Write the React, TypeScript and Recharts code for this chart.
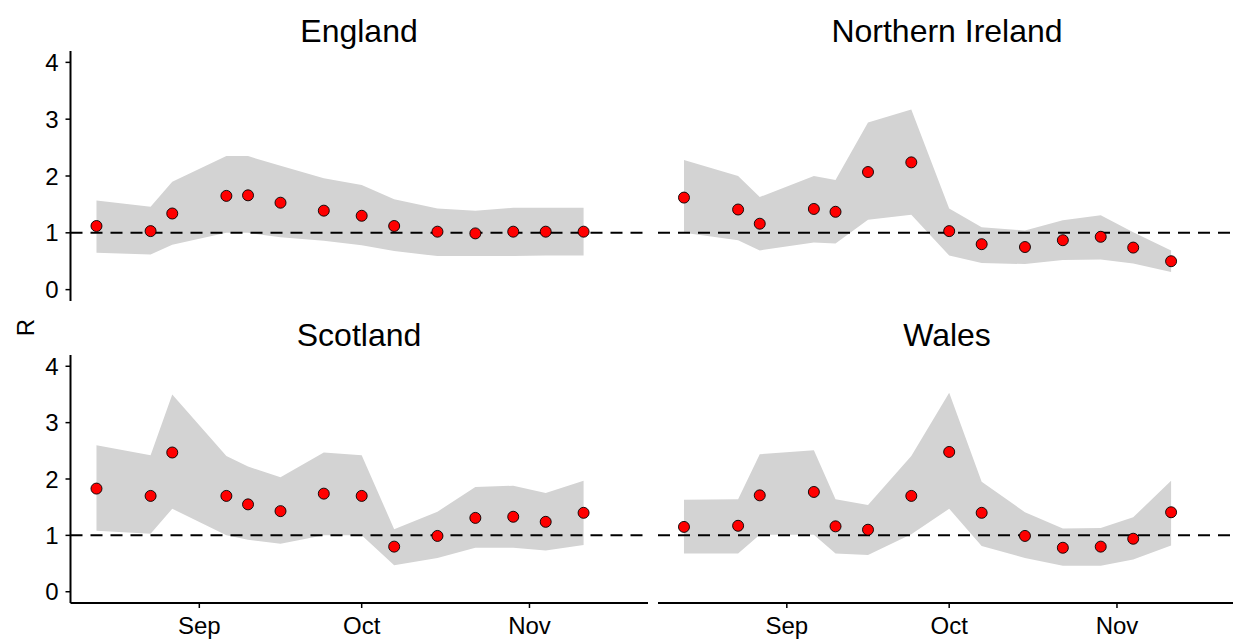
import React from 'react';
import {ComposedChart, Area, Scatter, XAxis, YAxis, ReferenceLine} from 'recharts';

// estimate dates (same for every nation)
const dates = [
  '2020-08-13', '2020-08-23', '2020-08-27', '2020-09-06', '2020-09-10', '2020-09-16', '2020-09-24',
  '2020-10-01', '2020-10-07', '2020-10-15', '2020-10-22', '2020-10-29', '2020-11-04', '2020-11-11'
];
const monthTicks = ['2020-09-01', '2020-10-01', '2020-11-01'];
const monthLabels = ['Sep', 'Oct', 'Nov'];
const rTicks = [0, 1, 2, 3, 4];

const englandR = [1.12, 1.03, 1.34, 1.65, 1.66, 1.53, 1.39, 1.30, 1.12, 1.02, 0.99, 1.02, 1.02, 1.02];
const englandLow = [0.65, 0.62, 0.79, 1.0, 1.0, 0.92, 0.86, 0.78, 0.68, 0.59, 0.59, 0.59, 0.6, 0.6];
const englandHigh = [1.57, 1.46, 1.9, 2.35, 2.35, 2.18, 1.96, 1.84, 1.59, 1.43, 1.39, 1.44, 1.44, 1.44];

const niR = [1.62, 1.41, 1.16, 1.42, 1.37, 2.07, 2.24, 1.03, 0.8, 0.75, 0.87, 0.93, 0.74, 0.5];
const niLow = [1.0, 0.87, 0.69, 0.83, 0.81, 1.23, 1.32, 0.6, 0.47, 0.45, 0.52, 0.53, 0.46, 0.31];
const niHigh = [2.28, 2.0, 1.63, 2.0, 1.93, 2.94, 3.17, 1.43, 1.1, 1.04, 1.22, 1.31, 1.01, 0.69];

const scotlandR = [1.83, 1.7, 2.47, 1.7, 1.55, 1.43, 1.74, 1.7, 0.8, 0.99, 1.31, 1.33, 1.24, 1.4];
const scotlandLow = [1.08, 1.03, 1.47, 1.0, 0.92, 0.85, 1.0, 1.0, 0.47, 0.6, 0.78, 0.78, 0.73, 0.83];
const scotlandHigh = [2.6, 2.42, 3.5, 2.41, 2.22, 2.03, 2.47, 2.42, 1.11, 1.42, 1.86, 1.88, 1.75, 1.97];

const walesR = [1.15, 1.17, 1.71, 1.77, 1.16, 1.1, 1.7, 2.48, 1.4, 0.99, 0.78, 0.8, 0.94, 1.41];
const walesLow = [0.68, 0.68, 1.01, 1.01, 0.68, 0.65, 1.02, 1.47, 0.81, 0.6, 0.46, 0.46, 0.57, 0.82];
const walesHigh = [1.63, 1.64, 2.44, 2.51, 1.64, 1.54, 2.41, 3.53, 1.95, 1.41, 1.12, 1.13, 1.32, 1.97];

const FONT = '"Liberation Sans", Arial, sans-serif';
const dayOf = (s: string) => (Date.parse(s) - Date.parse('2020-09-01')) / 86400000;
const tickDays = monthTicks.map(dayOf);

const build = (r: number[], lo: number[], hi: number[]) =>
  dates.map((d, i) => ({day: dayOf(d), r: r[i], band: [lo[i], hi[i]]}));

const Dot = (props: any) => (
  <circle cx={props.cx} cy={props.cy} r={5.5} fill="#ff0000" stroke="#000" strokeWidth={0.9} />
);

function Panel({data, left, top, width, height, margin, showX, showY}: any) {
  return (
    <div style={{position: 'absolute', left, top}}>
      <ComposedChart width={width} height={height} data={data} margin={margin}>
        <XAxis
          dataKey="day"
          type="number"
          domain={[-23.8, 82.9]}
          allowDataOverflow
          ticks={tickDays}
          tickFormatter={(v: number) => monthLabels[tickDays.indexOf(v)] ?? ''}
          hide={!showX}
          height={38}
          axisLine={{stroke: '#000', strokeWidth: 2}}
          tickLine={{stroke: '#000', strokeWidth: 1.5}}
          tickSize={5}
          tickMargin={9}
          tick={{fill: '#000', fontSize: 24, fontFamily: FONT}}
        />
        <YAxis
          type="number"
          domain={[-0.2, 4.2]}
          allowDataOverflow
          ticks={rTicks}
          hide={!showY}
          width={60.5}
          axisLine={{stroke: '#000', strokeWidth: 2}}
          tickLine={{stroke: '#000', strokeWidth: 1.5}}
          tickSize={5}
          tickMargin={7}
          tick={{fill: '#000', fontSize: 24, fontFamily: FONT}}
        />
        <Area
          type="linear"
          dataKey="band"
          stroke="none"
          fill="#d3d3d3"
          fillOpacity={1}
          dot={false}
          activeDot={false}
          isAnimationActive={false}
        />
        <ReferenceLine y={1} stroke="#000" strokeWidth={2} strokeDasharray="12 8" />
        <Scatter dataKey="r" shape={Dot} isAnimationActive={false} />
      </ComposedChart>
    </div>
  );
}

export default function App() {
  const topMargin = {top: 51, right: 2, bottom: 19, left: 10};
  const botMargin = {top: 35, right: 2, bottom: 0, left: 10};
  const topMarginR = {top: 51, right: 4.5, bottom: 19, left: 8};
  const botMarginR = {top: 35, right: 4.5, bottom: 0, left: 8};

  return (
    <div style={{position: 'absolute', left: 0, top: 0, width: 1233, height: 641, overflow: 'hidden', background: '#fff', fontFamily: FONT}}>
      <Panel data={build(englandR, englandLow, englandHigh)} left={0} top={0} width={650} height={320}
             margin={topMargin} showY />
      <Panel data={build(niR, niLow, niHigh)} left={650} top={0} width={590} height={320}
             margin={topMarginR} />
      <Panel data={build(scotlandR, scotlandLow, scotlandHigh)} left={0} top={320} width={650} height={321}
             margin={botMargin} showX showY />
      <Panel data={build(walesR, walesLow, walesHigh)} left={650} top={320} width={590} height={321}
             margin={botMarginR} showX />

      <svg width={1233} height={641} style={{position: 'absolute', left: 0, top: 0, pointerEvents: 'none'}}>
        <g fontFamily={FONT} fontSize={32} fill="#000" textAnchor="middle">
          <text x={359} y={42}>England</text>
          <text x={947} y={42}>Northern Ireland</text>
          <text x={359} y={346}>Scotland</text>
          <text x={947} y={346}>Wales</text>
        </g>
        <text x={25} y={327.5} fontFamily={FONT} fontSize={24} textAnchor="middle" dominantBaseline="central"
              transform="rotate(-90 25 327.5)">R</text>
      </svg>
    </div>
  );
}
